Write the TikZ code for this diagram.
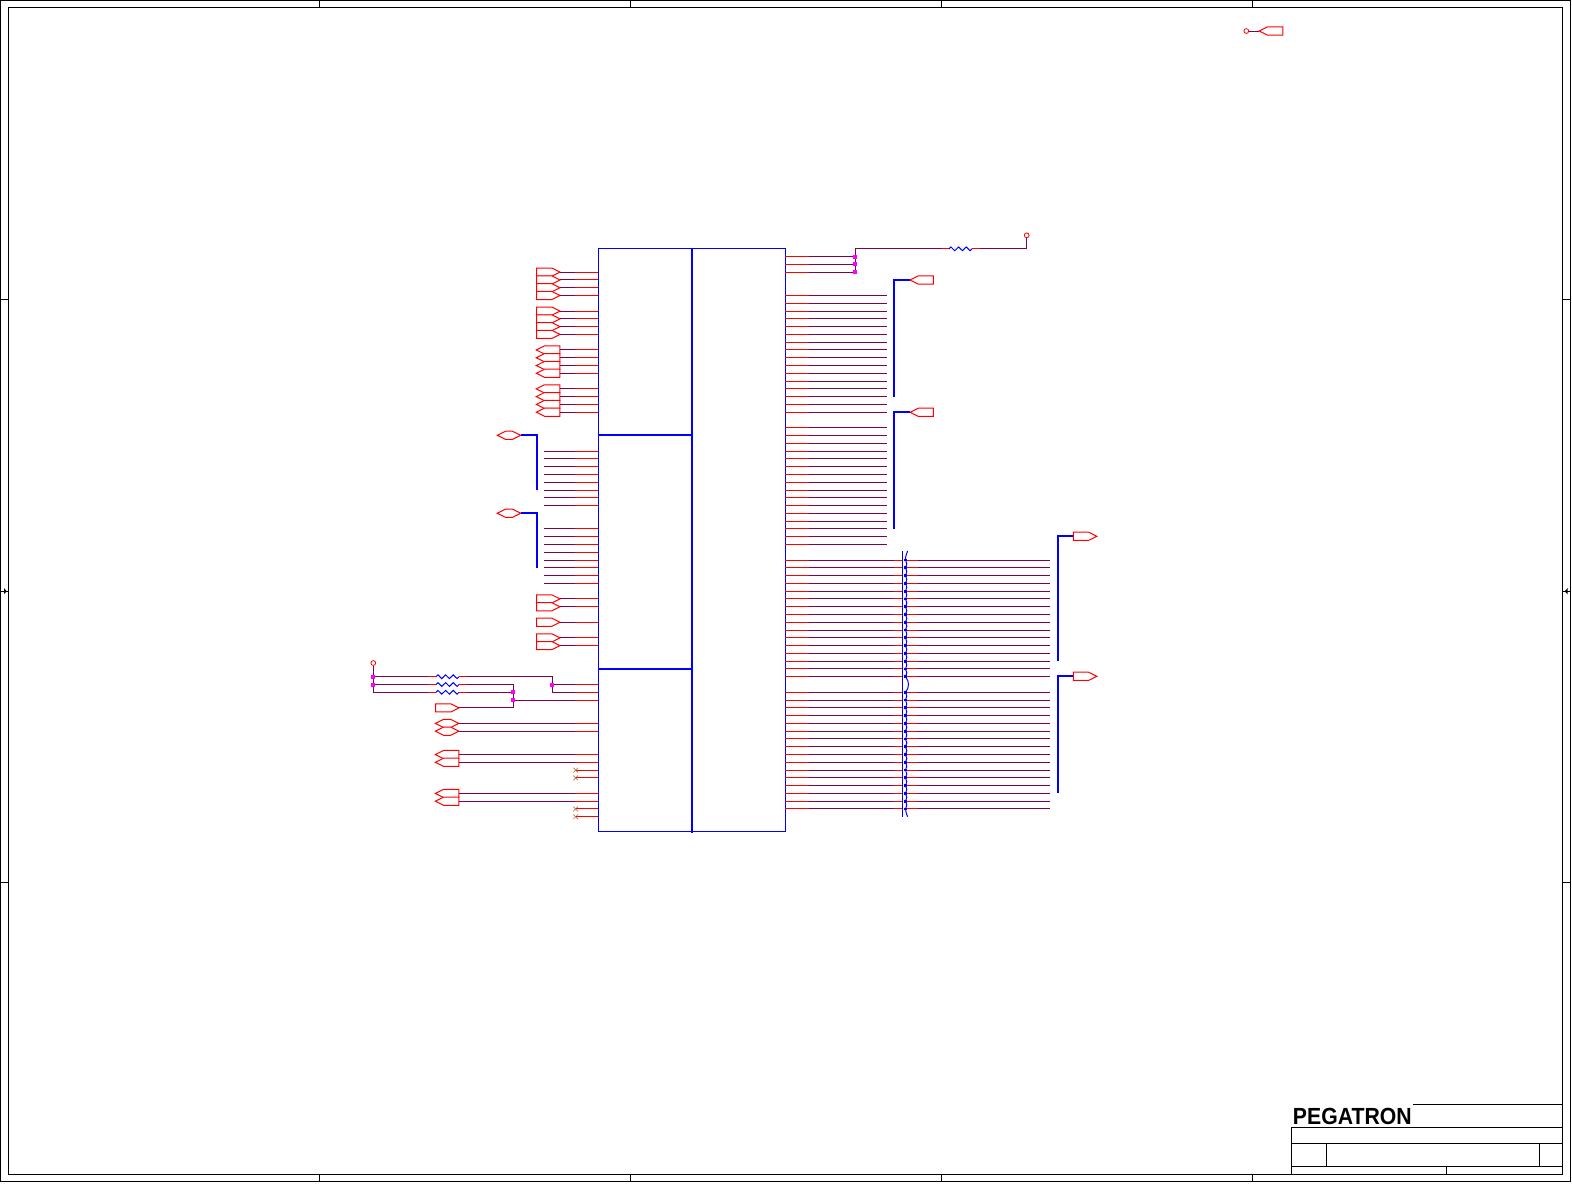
\documentclass[tikz,border=0pt]{standalone}
\usepackage{fontspec}
\setmainfont{Liberation Sans}
\usetikzlibrary{shapes.symbols,shapes.misc,decorations.pathmorphing}
\definecolor{pinred}{rgb}{1,0,0}
\definecolor{netpurple}{rgb}{0.5,0,0.33}
\definecolor{busblue}{rgb}{0,0,1}
\definecolor{jointpink}{rgb}{1,0,1}
\definecolor{crosstan}{rgb}{0.72,0.47,0.25}
\tikzset{
  sheetline/.style={draw=black,line width=0.75pt},
  pinline/.style={draw=pinred,line width=0.75pt},
  netline/.style={draw=netpurple,line width=0.75pt},
  busline/.style={draw=busblue,line width=1.7pt},
  boxline/.style={draw=busblue,line width=0.75pt},
  resline/.style={draw=busblue,line width=0.75pt,decorate,decoration={zigzag,amplitude=1.4pt,segment length=5.75pt}},
  sigbase/.style={signal,draw=pinred,line width=0.75pt,fill=white,inner sep=0pt,outer sep=0pt,minimum height=6.1pt,signal pointer angle=53},
  portout/.style={sigbase,signal to=east,minimum width=17.6pt},
  portin/.style={sigbase,signal to=west,minimum width=17.6pt},
  porthex/.style={sigbase,signal to=east and west,minimum width=17.6pt},
  joint/.style={rectangle,fill=jointpink,inner sep=0pt,minimum size=3pt},
  testpt/.style={circle,draw=pinred,line width=0.6pt,fill=white,inner sep=0pt,minimum size=3.6pt},
  nocon/.style={cross out,draw=crosstan,line width=0.5pt,inner sep=0pt,minimum size=3pt}
}
\newcommand{\gridy}[1]{{256.6+7.78*(#1)}}
\begin{document}
\begin{tikzpicture}[x=0.75pt,y=0.75pt,yscale=-1,xscale=1]
\useasboundingbox (0,0) rectangle (1572,1183);

%Shape: sheet frame
\draw [sheetline] (0.5,0.5) rectangle (1570.8,1181);
\draw [sheetline] (8.3,7.3) rectangle (1562.7,1174);
%Straight Lines: zone ticks
\foreach \xt in {319.3,630.1,941.6,1252.4}{
  \draw [sheetline] (\xt,0.5) -- (\xt,7.3);
  \draw [sheetline] (\xt,1174) -- (\xt,1181);
}
\foreach \yt in {299.3,882}{
  \draw [sheetline] (0.5,\yt) -- (8.3,\yt);
  \draw [sheetline] (1562.7,\yt) -- (1570.8,\yt);
}
\draw [sheetline] (0.5,591.2) -- (8.3,591.2);
\draw [sheetline] (1562.7,591.2) -- (1570.8,591.2);
\fill [black] (6.8,591.2) -- (4,588.2) -- (4,594.2) -- cycle;
\fill [black] (1564.7,591.2) -- (1567.5,588.2) -- (1567.5,594.2) -- cycle;

%Shape: title block
\draw [sheetline] (1412.7,1104.3) -- (1562.7,1104.3);
\draw [sheetline] (1291.3,1127.3) -- (1562.7,1127.3);
\draw [sheetline] (1291.3,1143) -- (1562.7,1143);
\draw [sheetline] (1291.3,1166) -- (1562.7,1166);
\draw [sheetline] (1291.3,1127.3) -- (1291.3,1174);
\draw [sheetline] (1326.3,1143) -- (1326.3,1166);
\draw [sheetline] (1539.3,1143) -- (1539.3,1166);
\draw [sheetline] (1446.3,1166) -- (1446.3,1174);
% Text Node
\node [anchor=base west,inner sep=0pt,xscale=0.91,font=\fontsize{17.5}{18}\selectfont\bfseries] (logo) at (1292.7,1124.7) {PEGATRON};

% top right port
\node [testpt] (tpTop) at (1246.3,31) {};
\node [portin,anchor=west] (pTop) at (1259.3,31) {};
\draw [netline] (tpTop) -- (pTop.west);

%Shape: main symbol
\draw [boxline] (598.3,248.5) rectangle (785.3,831.3);
\coordinate (midTop) at (692,247.8);
\coordinate (midBot) at (692,832.7);
\draw [busline] (midTop) -- (midBot);
\draw [busline] (598.3,435) -- (692,435);
\draw [busline] (598.3,669) -- (692,669);

% left pins with ports
\foreach \n [evaluate=\n as \y using 256.6+7.78*\n] in {2,3,4,5,7,8,9,10,44,45,47,49,50}{
  \node [portout,anchor=east] (pOut\n) at (560,\y) {};
  \coordinate (pinL\n) at (575,\y);
  \draw [pinline] (pinL\n) -- (598.3,\y);
  \draw [netline] (pOut\n.east) -- (pinL\n);
}
\foreach \n [evaluate=\n as \y using 256.6+7.78*\n] in {12,13,14,15,17,18,19,20}{
  \node [portin,anchor=west] (pIn\n) at (536.3,\y) {};
  \coordinate (pinL\n) at (575,\y);
  \draw [pinline] (pinL\n) -- (598.3,\y);
  \draw [netline] (pIn\n.east) -- (pinL\n);
}
% left pins to bus
\foreach \n [evaluate=\n as \y using 256.6+7.78*\n] in {25,...,32,35,36,...,42}{
  \coordinate (pinL\n) at (575,\y);
  \draw [pinline] (pinL\n) -- (598.3,\y);
  \draw [netline] (544.3,\y) -- (pinL\n);
}
%Straight Lines: left buses
\node [porthex] (pBusA) at (509,435.3) {};
\node [porthex] (pBusB) at (509,513.2) {};
\draw [busline] (pBusA.east) -- (537,435.3) -- (537,490);
\draw [busline] (pBusB.east) -- (537,513.2) -- (537,567.7);

% lower left ports
\node [portout,anchor=east] (pRst) at (459,\gridy{58}) {};
\foreach \n [evaluate=\n as \y using 256.6+7.78*\n] in {60,61}{
  \node [porthex] (pHex\n) at (447.15,\y) {};
  \coordinate (pinL\n) at (575,\y);
  \draw [pinline] (pinL\n) -- (598.3,\y);
  \draw [netline] (pHex\n.east) -- (pinL\n);
}
\foreach \n [evaluate=\n as \y using 256.6+7.78*\n] in {64,65,69,70}{
  \node [portin,anchor=west] (pIn\n) at (435.3,\y) {};
  \coordinate (pinL\n) at (575,\y);
  \draw [pinline] (pinL\n) -- (598.3,\y);
  \draw [netline] (pIn\n.east) -- (pinL\n);
}
% no connects
\foreach \n [evaluate=\n as \y using 256.6+7.78*\n] in {66,67,71,72}{
  \node [nocon] (nc\n) at (575.7,\y) {};
  \draw [pinline] (nc\n.center) -- (598.3,\y);
}

% pull ups, lower left
\node [testpt] (tpB) at (373.3,663) {};
\coordinate (cA) at (373.3,\gridy{54});
\coordinate (cB) at (373.3,\gridy{55});
\coordinate (cornB) at (373.3,\gridy{56});
\draw [netline] (tpB) -- (cA) -- (cB) -- (cornB);
\foreach \n/\src [evaluate=\n as \y using 256.6+7.78*\n] in {54/cA,55/cB,56/cornB}{
  \coordinate (rL\n) at (436,\y);
  \coordinate (rR\n) at (459,\y);
  \draw [netline] (\src) -- (428,\y);
  \draw [pinline] (428,\y) -- (rL\n);
  \draw [resline] (rL\n) -- (rR\n);
  \draw [pinline] (rR\n) -- (467,\y);
}
\coordinate (cC) at (552.3,\gridy{55});
\coordinate (cD) at (513.3,\gridy{56});
\coordinate (cE) at (513.3,\gridy{57});
\coordinate (cornC) at (552.3,\gridy{54});
\coordinate (cornD) at (552.3,\gridy{56});
\coordinate (cornE) at (513.3,\gridy{55});
\coordinate (cornF) at (513.3,\gridy{58});
\draw [netline] (467,\gridy{54}) -- (cornC) -- (cC) -- (cornD);
\draw [netline] (467,\gridy{55}) -- (cornE) -- (cD) -- (cE) -- (cornF) -- (pRst.east);
\draw [netline] (467,\gridy{56}) -- (cD);
\draw [netline] (cC) -- (575,\gridy{55});
\draw [netline] (cornD) -- (575,\gridy{56});
\draw [netline] (cE) -- (575,\gridy{57});
\foreach \n [evaluate=\n as \y using 256.6+7.78*\n] in {55,56,57}{
  \draw [pinline] (575,\y) -- (598.3,\y);
}
\node [joint] (jA) at (cA) {};
\node [joint] (jB) at (cB) {};
\node [joint] (jC) at (cC) {};
\node [joint] (jD) at (cD) {};
\node [joint] (jE) at (cE) {};

% right top, pull up
\node [testpt] (tpC) at (1026.7,235.3) {};
\coordinate (cornG) at (855.3,\gridy{-1});
\coordinate (cornH) at (1026.7,\gridy{-1});
\coordinate (rL0) at (949,\gridy{-1});
\coordinate (rR0) at (972,\gridy{-1});
\draw [netline] (cornG) -- (941.7,\gridy{-1});
\draw [pinline] (941.7,\gridy{-1}) -- (rL0);
\draw [resline] (rL0) -- (rR0);
\draw [pinline] (rR0) -- (980,\gridy{-1});
\draw [netline] (980,\gridy{-1}) -- (cornH) -- (tpC);
\draw [netline] (cornG) -- (855.3,\gridy{2});
\foreach \n [evaluate=\n as \y using 256.6+7.78*\n] in {0,1,2}{
  \draw [pinline] (785.3,\y) -- (808.7,\y);
  \draw [netline] (808.7,\y) -- (855.3,\y);
  \node [joint] (jR\n) at (855.3,\y) {};
}

% right pins to bus
\foreach \n [evaluate=\n as \y using 256.6+7.78*\n] in {5,...,20,22,23,...,37}{
  \draw [pinline] (785.3,\y) -- (808.7,\y);
  \draw [netline] (808.7,\y) -- (886.7,\y);
}
%Straight Lines: right buses
\node [portin,anchor=west] (pBusC) at (910,280) {};
\node [portin,anchor=west] (pBusD) at (910,412.3) {};
\node [portout,anchor=west] (pBusE) at (1073.3,536.3) {};
\node [portout,anchor=west] (pBusF) at (1073.3,676.3) {};
\draw [busline] (pBusC.west) -- (894.3,280) -- (894.3,397);
\draw [busline] (pBusD.west) -- (894.3,412.3) -- (894.3,529.3);
\draw [busline] (pBusE.west) -- (1058,536.3) -- (1058,661.3);
\draw [busline] (pBusF.west) -- (1058,676.3) -- (1058,793.3);

% series connector
\draw [boxline] (902.3,551) -- (902.3,816.7);
\foreach \n [evaluate=\n as \y using 256.6+7.78*\n] in {39,40,...,54,56,57,...,71}{
  \draw [pinline] (785.3,\y) -- (808.7,\y);
  \draw [netline] (808.7,\y) -- (894.3,\y);
  \draw [pinline] (894.3,\y) -- (902.3,\y);
  \draw [pinline] (906.7,\y) -- (917.7,\y);
  \draw [netline] (917.7,\y) -- (1050.3,\y);
  \fill [busblue] (904.4,\y-1.4) rectangle (907.2,\y+1.4);
}
\foreach \n [evaluate=\n as \y using 256.6+7.78*\n,evaluate=\n as \yy using 256.6+7.78*(\n+1)] in {39,40,...,53,56,57,...,70}{
  \draw [boxline] (905.5,\y) .. controls (907.2,\y+2) and (907.2,\yy-2) .. (905.5,\yy);
}
\draw [boxline] (907.6,551) .. controls (906.6,553.5) and (905.5,556) .. (905.5,\gridy{39});
\draw [boxline] (905.5,\gridy{54}) .. controls (909.5,681.5) and (909.5,687.5) .. (905.5,\gridy{56});
\draw [boxline] (905.5,\gridy{71}) .. controls (905.5,811.5) and (906.6,814) .. (907.6,816.7);

\end{tikzpicture}
\end{document}
